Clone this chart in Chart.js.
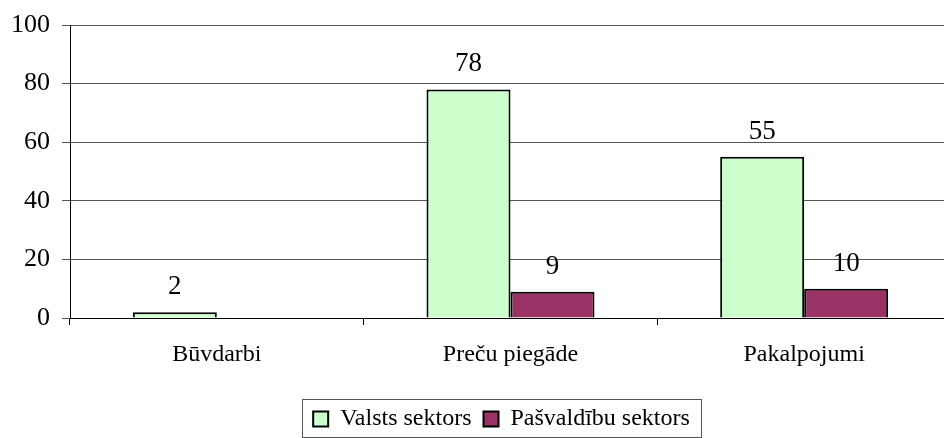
<!DOCTYPE html>
<html>
<head>
<meta charset="utf-8">
<script src="https://cdn.jsdelivr.net/npm/chart.js@4.4.1/dist/chart.umd.min.js"></script>
<style>
  html, body { margin: 0; padding: 0; background: #fff; overflow: hidden; }
  #wrap { width: 944px; height: 438px; overflow: hidden; }
  canvas { display: block; }
</style>
</head>
<body>
<div id="wrap"><canvas id="c" width="960" height="438"></canvas></div>
<script>
const categories = ["Būvdarbi", "Preču piegāde", "Pakalpojumi"];
const seriesNames = ["Valsts sektors", "Pašvaldību sektors"];
const valstsValues = [2, 78, 55];
const pasvaldibuValues = [null, 9, 10];
const yMin = 0, yMax = 100, yStep = 20;

const SERIF = '"Liberation Serif", "Times New Roman", serif';
const LEGEND_SHIFT = 26;

const dataLabels = {
  id: 'dataLabels',
  afterDatasetsDraw(chart) {
    const ctx = chart.ctx;
    ctx.save();
    ctx.font = '27px ' + SERIF;
    ctx.fillStyle = '#000';
    ctx.textAlign = 'center';
    ctx.textBaseline = 'alphabetic';
    chart.data.datasets.forEach((ds, di) => {
      const meta = chart.getDatasetMeta(di);
      meta.data.forEach((el, i) => {
        const v = ds.data[i];
        if (v === null || v === undefined) return;
        ctx.fillText(String(v), el.x, el.y - 18);
      });
    });
    ctx.restore();
  }
};

const legendShift = {
  id: 'legendShift',
  afterLayout(chart) {
    const lg = chart.legend;
    if (!lg) return;
    lg.left += LEGEND_SHIFT;
    lg.right += LEGEND_SHIFT;
    if (lg.legendHitBoxes) lg.legendHitBoxes.forEach(h => { h.left += LEGEND_SHIFT; });
  }
};

const legendBorder = {
  id: 'legendBorder',
  afterDraw(chart) {
    const lg = chart.legend;
    if (!lg || !lg.legendHitBoxes || !lg.legendHitBoxes.length) return;
    const hb = lg.legendHitBoxes;
    const left = Math.min(...hb.map(h => h.left)) - 11;
    const right = Math.max(...hb.map(h => h.left + h.width)) + 11;
    const top = hb[0].top - 8;
    const bottom = hb[0].top + hb[0].height + 6;
    const ctx = chart.ctx;
    ctx.save();
    ctx.strokeStyle = '#555';
    ctx.lineWidth = 1;
    ctx.strokeRect(Math.round(left) + 0.5, Math.round(top) + 0.5, Math.round(right - left), Math.round(bottom - top));
    ctx.restore();
  }
};

new Chart(document.getElementById('c'), {
  type: 'bar',
  data: {
    labels: categories,
    datasets: [
      {
        label: seriesNames[0],
        data: valstsValues,
        backgroundColor: '#CCFFCC',
        borderColor: '#000',
        borderWidth: 2,
        categoryPercentage: 0.572,
        barPercentage: 1.0
      },
      {
        label: seriesNames[1],
        data: pasvaldibuValues,
        backgroundColor: '#993366',
        borderColor: '#000',
        borderWidth: 2,
        categoryPercentage: 0.572,
        barPercentage: 1.0
      }
    ]
  },
  options: {
    responsive: false,
    animation: false,
    devicePixelRatio: 1,
    layout: { padding: { left: 0, right: 9, top: 25, bottom: -3 } },
    plugins: {
      legend: {
        position: 'bottom',
        labels: {
          color: '#000',
          font: { family: SERIF, size: 24 },
          boxWidth: 15,
          boxHeight: 15,
          padding: 12
        }
      },
      tooltip: { enabled: false },
      title: { display: false }
    },
    scales: {
      x: {
        grid: {
          display: true,
          drawOnChartArea: false,
          drawTicks: true,
          tickLength: 7,
          color: '#000',
          offset: true
        },
        border: { display: true, color: '#000', width: 1 },
        ticks: {
          color: '#000',
          font: { family: SERIF, size: 24 },
          padding: 15,
          maxRotation: 0
        },
        afterFit(scale) { scale.height = 77; }
      },
      y: {
        min: yMin,
        max: yMax,
        grid: {
          color: '#555',
          lineWidth: 1,
          drawTicks: true,
          tickLength: 8
        },
        border: { display: true, color: '#000', width: 1 },
        ticks: {
          stepSize: yStep,
          color: '#000',
          font: { family: SERIF, size: 26 },
          padding: 12
        },
        afterFit(scale) {
          scale.width = 70;
          scale.paddingTop = 0;
          scale.paddingBottom = 0;
        }
      }
    }
  },
  plugins: [legendShift, dataLabels, legendBorder]
});
</script>
</body>
</html>
